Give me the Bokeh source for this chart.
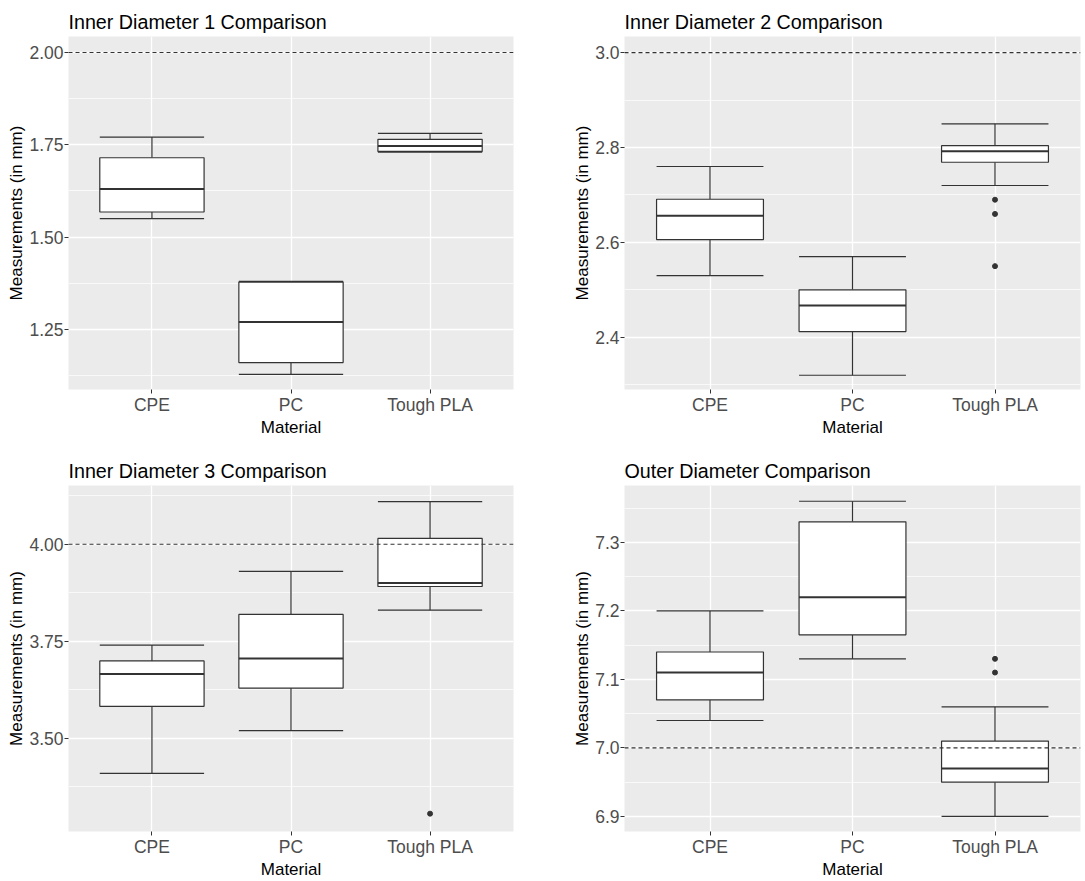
from bokeh.plotting import figure
from bokeh.layouts import gridplot
from bokeh.models import FixedTicker, Span, Range1d, ColumnDataSource
from bokeh.embed import file_html
from bokeh.resources import INLINE

materials = ["CPE", "PC", "Tough PLA"]

# Inner Diameter 1
id1_low = [1.55, 1.128, 1.73]
id1_q1 = [1.568, 1.160, 1.732]
id1_med = [1.630, 1.270, 1.747]
id1_q3 = [1.715, 1.378, 1.765]
id1_high = [1.771, 1.380, 1.781]
id1_out_x = []
id1_out_y = []

# Inner Diameter 2
id2_low = [2.53, 2.32, 2.72]
id2_q1 = [2.606, 2.412, 2.769]
id2_med = [2.656, 2.467, 2.792]
id2_q3 = [2.691, 2.500, 2.804]
id2_high = [2.76, 2.57, 2.85]
id2_out_x = ["Tough PLA", "Tough PLA", "Tough PLA"]
id2_out_y = [2.69, 2.66, 2.55]

# Inner Diameter 3
id3_low = [3.409, 3.519, 3.830]
id3_q1 = [3.582, 3.629, 3.891]
id3_med = [3.665, 3.705, 3.900]
id3_q3 = [3.699, 3.819, 4.015]
id3_high = [3.740, 3.930, 4.110]
id3_out_x = ["Tough PLA"]
id3_out_y = [3.305]

# Outer Diameter
od_low = [7.04, 7.13, 6.90]
od_q1 = [7.07, 7.165, 6.95]
od_med = [7.11, 7.22, 6.97]
od_q3 = [7.14, 7.33, 7.01]
od_high = [7.20, 7.36, 7.06]
od_out_x = ["Tough PLA", "Tough PLA"]
od_out_y = [7.13, 7.11]

FONT = "Liberation Sans"
BG = "#EBEBEB"
LINE = "#333333"


def make_panel(title, low, q1, med, q3, high, out_x, out_y, target,
               yrange, major, minor, fmt, width, height,
               bl, br, bt, bb):
    p = figure(width=width, height=height, output_backend="svg",
               toolbar_location=None, x_range=Range1d(0.4, 3.6),
               y_range=Range1d(*yrange), min_border_left=bl,
               min_border_right=br, min_border_top=bt, min_border_bottom=bb)
    p.title.text = title
    p.title.text_font = FONT
    p.title.text_font_size = "19.7px"
    p.title.text_font_style = "normal"
    p.title.text_color = "#000000"
    p.title.standoff = 8
    p.title.offset = 0
    p.background_fill_color = BG
    p.border_fill_color = "white"
    p.outline_line_color = None

    xs = [materials.index(m) + 1 for m in materials]
    hw = 0.375
    src = ColumnDataSource(dict(x=xs, low=low, q1=q1, med=med, q3=q3, high=high,
                                x0=[x - hw for x in xs], x1=[x + hw for x in xs]))
    # whiskers
    p.segment(x0="x", y0="q3", x1="x", y1="high", source=src, line_color=LINE, line_width=1.2)
    p.segment(x0="x", y0="q1", x1="x", y1="low", source=src, line_color=LINE, line_width=1.2)
    p.segment(x0="x0", y0="high", x1="x1", y1="high", source=src, line_color=LINE, line_width=1.2)
    p.segment(x0="x0", y0="low", x1="x1", y1="low", source=src, line_color=LINE, line_width=1.2)
    # boxes
    p.vbar(x="x", width=0.75, top="q3", bottom="q1", source=src,
           fill_color="white", line_color=LINE, line_width=1.2)
    p.segment(x0="x0", y0="med", x1="x1", y1="med", source=src, line_color=LINE, line_width=2)
    # outliers
    if out_x:
        ox = [materials.index(m) + 1 for m in out_x]
        p.scatter(ox, out_y, size=5, color=LINE)
    # reference line
    p.add_layout(Span(location=target, dimension="width", line_color=LINE,
                      line_dash="4 3", line_width=1.1))

    # axes
    p.xaxis.ticker = FixedTicker(ticks=[1, 2, 3])
    p.xaxis.major_label_overrides = {1: materials[0], 2: materials[1], 3: materials[2]}
    p.yaxis.ticker = FixedTicker(ticks=major, minor_ticks=minor)
    p.yaxis.major_label_overrides = {t: fmt.format(t) for t in major}
    for ax in (p.xaxis[0], p.yaxis[0]):
        ax.axis_line_color = None
        ax.major_tick_line_color = LINE
        ax.major_tick_out = 4
        ax.major_tick_in = 0
        ax.minor_tick_line_color = None
        ax.major_label_text_font = FONT
        ax.major_label_text_font_size = "17.5px"
        ax.major_label_text_color = "#4D4D4D"
        ax.axis_label_text_font = FONT
        ax.axis_label_text_font_size = "17px"
        ax.axis_label_text_font_style = "normal"
        ax.axis_label_text_color = "#000000"
        ax.major_label_standoff = 1
        ax.axis_label_standoff = 0
    p.xaxis.axis_label = "Material"
    p.yaxis.axis_label = "Measurements (in mm)"

    p.xgrid.ticker = FixedTicker(ticks=[1, 2, 3])
    p.xgrid.grid_line_color = "white"
    p.xgrid.grid_line_width = 1.3
    p.ygrid.grid_line_color = "white"
    p.ygrid.grid_line_width = 1.3
    p.ygrid.minor_grid_line_color = "white"
    p.ygrid.minor_grid_line_width = 0.7
    return p


p1 = make_panel("Inner Diameter 1 Comparison", id1_low, id1_q1, id1_med, id1_q3, id1_high,
                id1_out_x, id1_out_y, 2.0, (1.087, 2.0435),
                [1.25, 1.5, 1.75, 2.0], [1.125, 1.375, 1.625, 1.875], "{:.2f}",
                544, 448, 68, 31, 36, 59)
p2 = make_panel("Inner Diameter 2 Comparison", id2_low, id2_q1, id2_med, id2_q3, id2_high,
                id2_out_x, id2_out_y, 3.0, (2.290, 3.034),
                [2.4, 2.6, 2.8, 3.0], [2.3, 2.5, 2.7, 2.9], "{:.1f}",
                541, 448, 80, 5, 36, 59)
p3 = make_panel("Inner Diameter 3 Comparison", id3_low, id3_q1, id3_med, id3_q3, id3_high,
                id3_out_x, id3_out_y, 4.0, (3.259, 4.1515),
                [3.5, 3.75, 4.0], [3.375, 3.625, 3.875, 4.125], "{:.2f}",
                544, 433, 68, 31, 37, 40)
p4 = make_panel("Outer Diameter Comparison", od_low, od_q1, od_med, od_q3, od_high,
                od_out_x, od_out_y, 7.0, (6.878, 7.383),
                [6.9, 7.0, 7.1, 7.2, 7.3], [6.95, 7.05, 7.15, 7.25, 7.35], "{:.1f}",
                541, 433, 80, 5, 37, 40)

grid = gridplot([[p1, p2], [p3, p4]], toolbar_location=None)

open("out.html", "w").write(file_html(grid, INLINE))
